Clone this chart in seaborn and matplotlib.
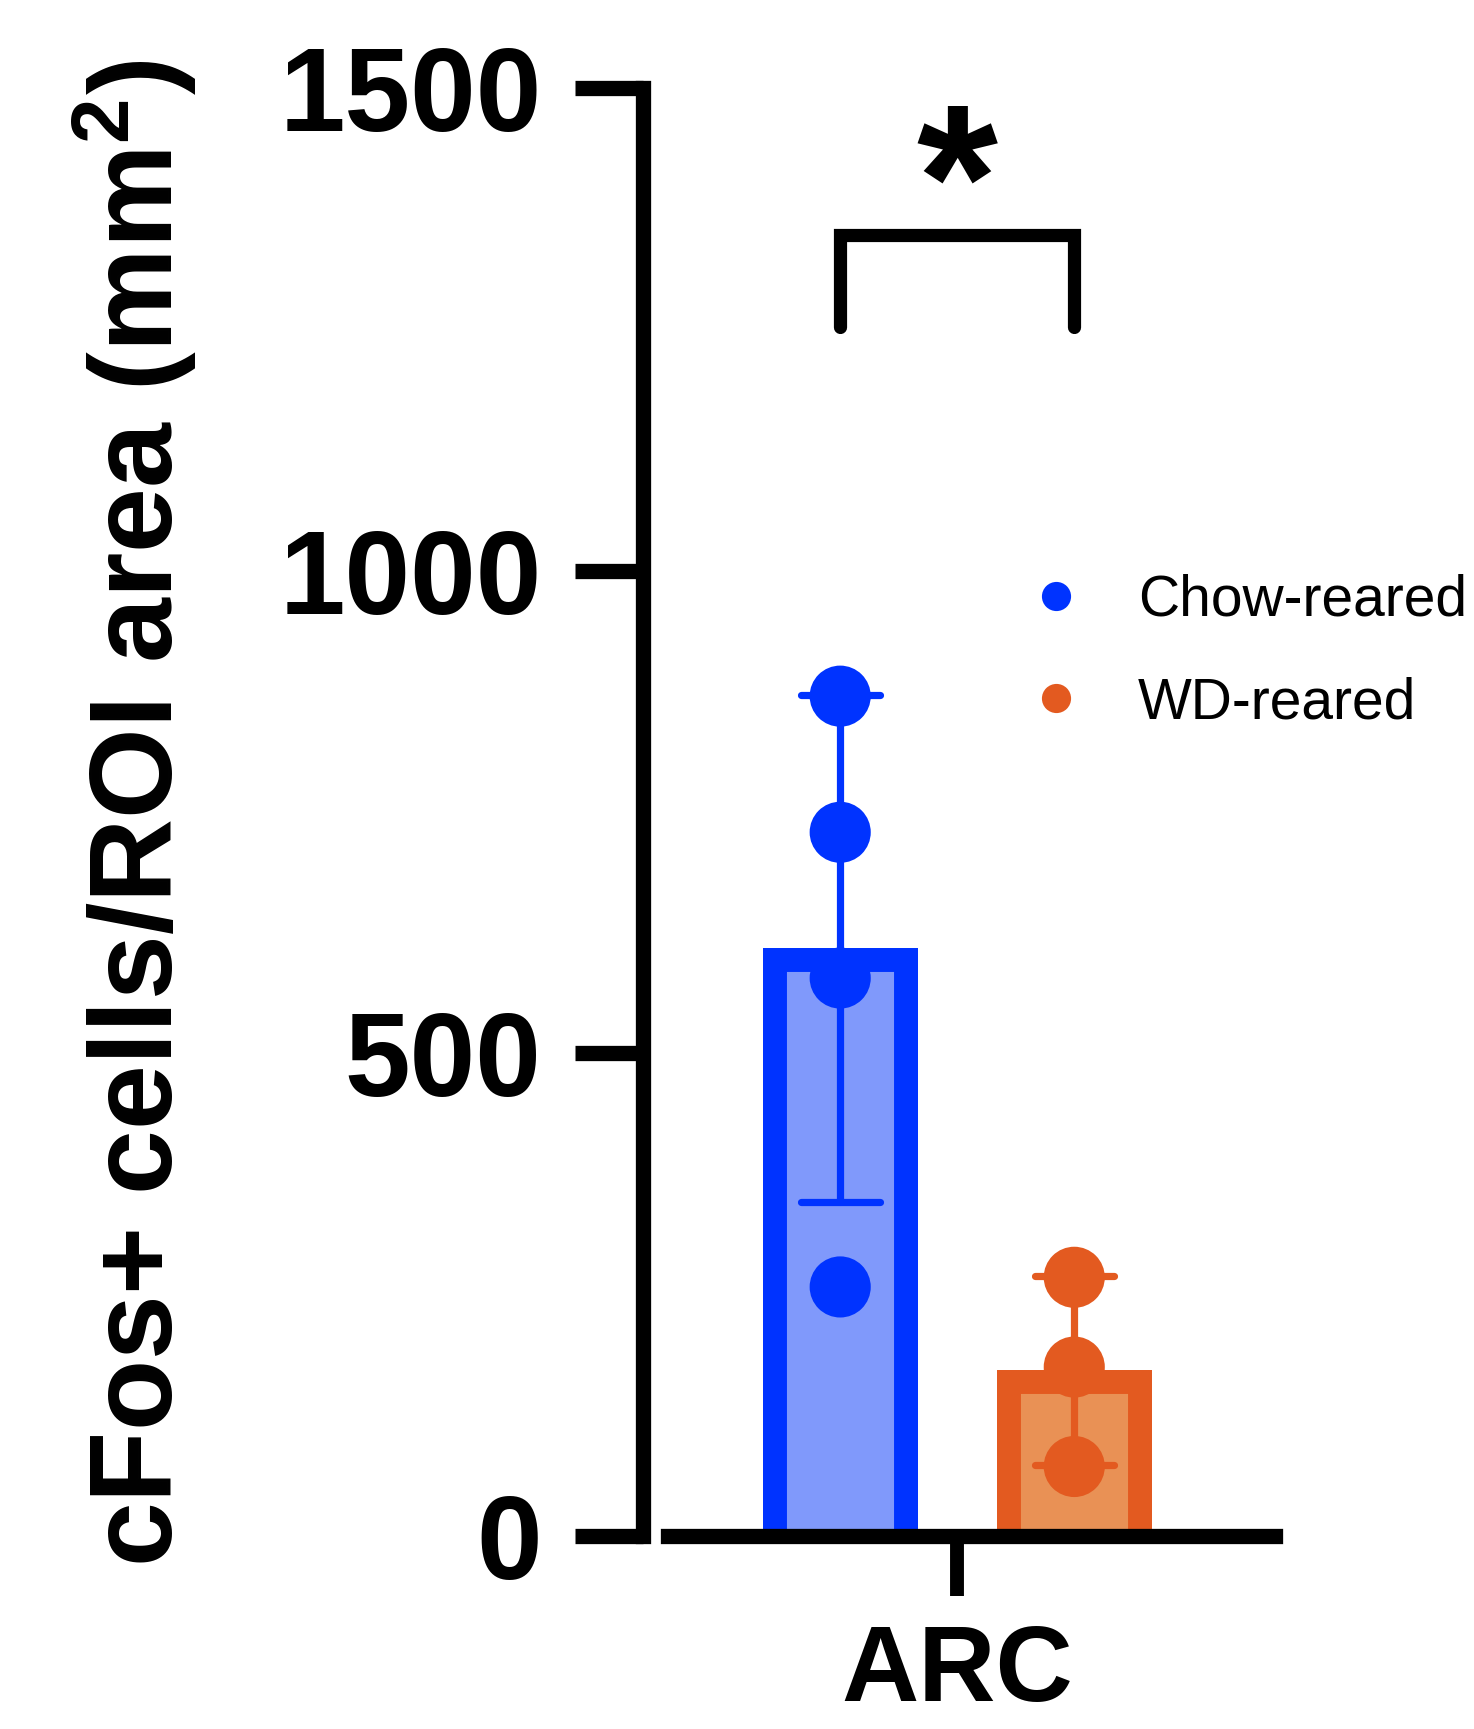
import numpy as np
import pandas as pd
import matplotlib
matplotlib.use("Agg")
import matplotlib.pyplot as plt
import seaborn as sns
from matplotlib.lines import Line2D

# ---------------- data ----------------
region = "ARC"
groups = ["Chow-reared", "WD-reared"]
chow_values = [870, 729, 578, 258]
wd_values = [268, 175, 72]
y_ticks = [0, 500, 1000, 1500]
y_label = "cFos+ cells/ROI area (mm$^{\\mathbf{2}}$)"
sig_label = "*"
bracket_low = 1252
bracket_high = 1348
star_y = 1390

edge_colors = {"Chow-reared": "#0033FF", "WD-reared": "#E35A20"}
fill_colors = {"Chow-reared": "#8099FB", "WD-reared": "#E99155"}

df = pd.DataFrame({
    "region": [region] * (len(chow_values) + len(wd_values)),
    "group": [groups[0]] * len(chow_values) + [groups[1]] * len(wd_values),
    "value": chow_values + wd_values,
})

sns.set_theme(style="ticks")
plt.rcParams["font.family"] = ["Liberation Sans", "DejaVu Sans"]
plt.rcParams.update({
    "text.color": "black", "axes.labelcolor": "black",
    "xtick.color": "black", "ytick.color": "black",
    "axes.edgecolor": "black",
    "mathtext.fontset": "custom",
    "mathtext.rm": "Liberation Sans",
    "mathtext.bf": "Liberation Sans:bold",
    "mathtext.it": "Liberation Sans:italic",
})

W, H = 1474, 1729
fig = plt.figure(figsize=(W / 100, H / 100), dpi=100)
ax = fig.add_axes([643 / W, 193 / H, 639 / W, 1448 / H])

sns.barplot(data=df, x="region", y="value", hue="group", hue_order=groups,
            palette=edge_colors, errorbar="sd", capsize=0.27, gap=0.3375,
            err_kws={"linewidth": 5.2}, legend=False, ax=ax)

bars = list(ax.patches)
for patch, g in zip(bars, groups):
    patch.set_facecolor(fill_colors[g])
    patch.set_edgecolor(edge_colors[g])
    patch.set_linewidth(34.5)
    ext = 60
    patch.set_y(patch.get_y() - ext)
    patch.set_height(patch.get_height() + ext)
    patch.set_clip_path(patch.get_path(), patch.get_transform())

for line, g in zip(ax.lines, groups):
    line.set_color(edge_colors[g])

sns.stripplot(data=df, x="region", y="value", hue="group", hue_order=groups,
              palette=edge_colors, dodge=True, jitter=False, size=44,
              linewidth=0, legend=False, ax=ax)

# axes styling
ax.set_xlim(-0.537, 0.555)
ax.set_ylim(0, 1500)
ax.set_yticks(y_ticks)
ax.set_yticklabels([str(t) for t in y_ticks])
ax.set_xlabel("")
ax.set_ylabel(y_label, fontsize=84, fontweight="bold", va="center")
ax.yaxis.set_label_coords(-0.795, 0.499)
for s in ["top", "right"]:
    ax.spines[s].set_visible(False)
for s in ["left", "bottom"]:
    ax.spines[s].set_color("black")
    ax.spines[s].set_linewidth(11)
ax.spines["bottom"].set_bounds(-0.494, 0.543)
ax.tick_params(axis="y", length=49, width=11, pad=24, labelsize=85, color="black",
               labelcolor="black")
ax.tick_params(axis="x", length=43, width=10, pad=20, labelsize=77, color="black",
               labelcolor="black")
for lbl in ax.get_yticklabels() + ax.get_xticklabels():
    lbl.set_fontweight("bold")

# significance bracket
centers = [p.get_x() + p.get_width() / 2 for p in bars]
ax.plot([centers[0], centers[0], centers[1], centers[1]],
        [bracket_low, bracket_high, bracket_high, bracket_low],
        color="black", lw=9.5, solid_capstyle="round", solid_joinstyle="miter",
        clip_on=False)
ax.text(np.mean(centers), star_y, sig_label, ha="center", va="center",
        fontsize=150, fontweight="bold", clip_on=False)

# legend
handles = [Line2D([], [], marker="o", ls="", color=edge_colors[g], markersize=21,
                  markeredgewidth=0) for g in groups]
fig.legend(handles, groups, loc="upper left", bbox_to_anchor=(1027.5 / W, 1 - 574 / H),
           frameon=False, fontsize=41, handlelength=1.0, handletextpad=0.94,
           labelspacing=0.85, borderpad=0, borderaxespad=0, labelcolor="black")

fig.savefig("out.png", dpi=100)
